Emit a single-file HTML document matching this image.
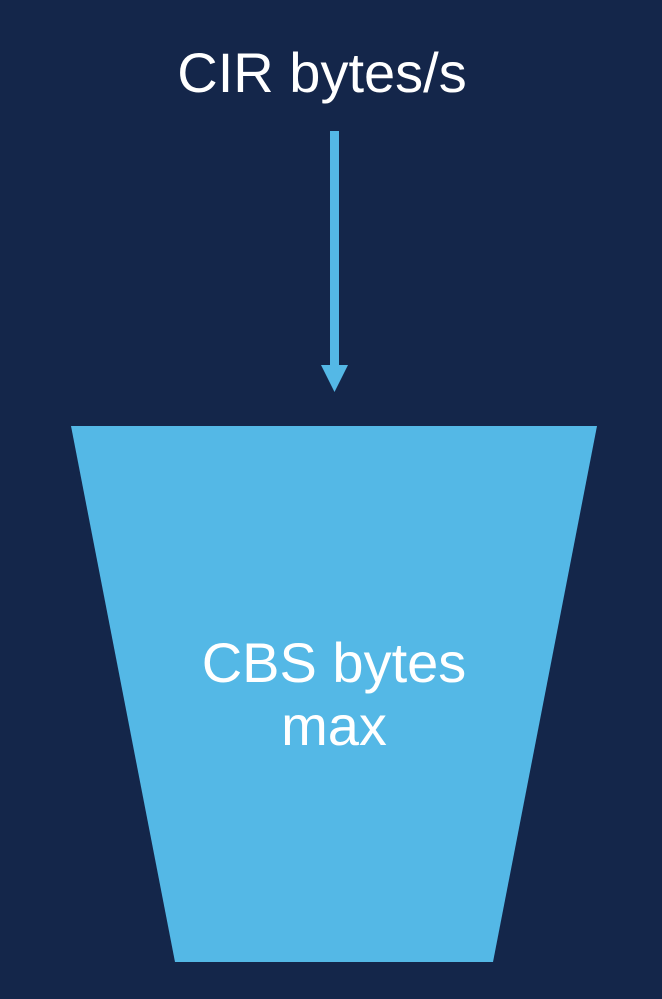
<!DOCTYPE html>
<html><head><style>
html,body{margin:0;padding:0;background:#14264a;}
body{width:662px;height:994px;overflow:hidden;}
</style></head><body>
<svg width="662" height="994" viewBox="0 0 662 994" xmlns="http://www.w3.org/2000/svg">
<rect width="662" height="994" fill="#14264a"/>
<text x="322" y="92" text-anchor="middle" font-family="Liberation Sans, sans-serif" font-size="56" fill="#ffffff">CIR bytes/s</text>
<rect x="330" y="131" width="9" height="238" fill="#54b8e6"/>
<polygon points="321,365 348,365 334.5,392" fill="#54b8e6"/>
<polygon points="71,426 597,426 493,962 175,962" fill="#54b8e6"/>
<text x="334" y="682" text-anchor="middle" font-family="Liberation Sans, sans-serif" font-size="56" fill="#ffffff">CBS bytes</text>
<text x="334" y="745" text-anchor="middle" font-family="Liberation Sans, sans-serif" font-size="56" fill="#ffffff">max</text>
</svg>
</body></html>
